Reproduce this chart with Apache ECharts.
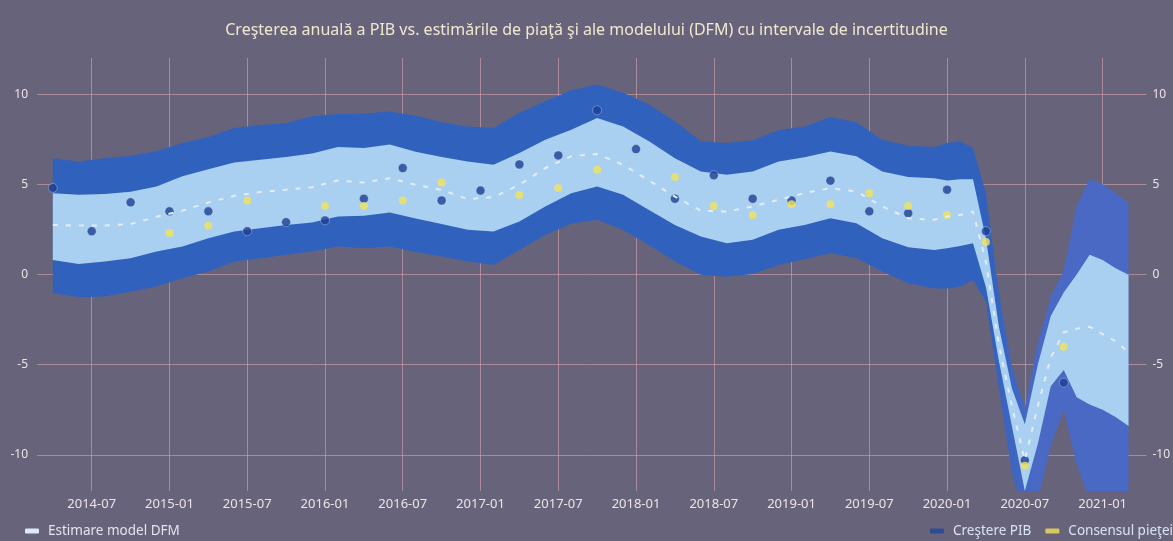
<!DOCTYPE html>
<html>
<head>
<meta charset="utf-8">
<script src="https://cdn.jsdelivr.net/npm/echarts@6/dist/echarts.min.js"></script>
<style>
  html, body { margin: 0; padding: 0; background: #67637a; }
  #chart { width: 1173px; height: 541px; }
</style>
</head>
<body>
<div id="chart"></div>
<script>
// quarterly observations
const quarterDates = ['2014-04','2014-07','2014-10','2015-01','2015-04','2015-07','2015-10','2016-01','2016-04','2016-07',
  '2016-10','2017-01','2017-04','2017-07','2017-10','2018-01','2018-04','2018-07','2018-10','2019-01',
  '2019-04','2019-07','2019-10','2020-01','2020-04','2020-07','2020-10']
const gdpGrowth = [4.8, 2.4, 4.0, 3.5, 3.5, 2.4, 2.9, 3.0, 4.2, 5.9,
  4.1, 4.65, 6.1, 6.6, 9.1, 6.95, 4.2, 5.5, 4.2, 4.1,
  5.2, 3.5, 3.4, 4.7, 2.4, -10.3, -6.0]
const marketConsensus = [null, null, null, 2.3, 2.7, 4.1, null, 3.8, 3.8, 4.1,
  5.1, null, 4.4, 4.8, 5.8, null, 5.4, 3.8, 3.3, 3.9,
  3.9, 4.5, 3.8, 3.3, 1.8, -10.6, -4.0]

// DFM estimate and uncertainty bands
const bandDates = ['2014-04','2014-06','2014-08','2014-10','2014-12','2015-02','2015-04','2015-06','2015-08','2015-10',
  '2015-12','2016-02','2016-04','2016-06','2016-08','2016-10','2016-12','2017-02','2017-04','2017-06',
  '2017-08','2017-10','2017-12','2018-02','2018-04','2018-06','2018-08','2018-10','2018-12','2019-02',
  '2019-04','2019-06','2019-08','2019-10','2019-12',
  '2020-01','2020-02','2020-03','2020-04','2020-05','2020-06','2020-07','2020-08','2020-09','2020-10',
  '2020-11','2020-12','2021-01','2021-02','2021-03']
const dfmEstimate = [2.75, 2.71, 2.71, 2.8, 3.2, 3.54, 3.99, 4.36, 4.57, 4.7,
  4.84, 5.21, 5.1, 5.34, 4.97, 4.69, 4.18, 4.29, 4.97, 5.9,
  6.55, 6.68, 6.08, 5.21, 4.32, 3.54, 3.49, 3.77, 4.14, 4.51,
  4.79, 4.6, 3.77, 3.12, 3.03,
  3.21, 3.3, 3.49, 0.7, -3.9, -7.3, -10.3, -7.3, -4.6, -3.2,
  -3.0, -2.9, -3.3, -3.7, -4.3]
const innerUpper = [4.51, 4.42, 4.46, 4.58, 4.88, 5.44, 5.84, 6.21, 6.36, 6.51,
  6.7, 7.07, 7.01, 7.2, 6.8, 6.51, 6.27, 6.08, 6.73, 7.47,
  8.03, 8.68, 8.2, 7.38, 6.45, 5.71, 5.53, 5.71, 6.27, 6.5,
  6.82, 6.55, 5.71, 5.4, 5.34,
  5.21, 5.28, 5.28, 2.0, -2.9, -6.3, -8.3, -5.0, -2.3, -1.0,
  0.0, 1.1, 0.81, 0.35, -0.02]
const innerLower = [0.81, 0.58, 0.72, 0.9, 1.27, 1.55, 2.01, 2.38, 2.57, 2.75,
  2.88, 3.21, 3.25, 3.44, 3.1, 2.8, 2.48, 2.38, 2.94, 3.77,
  4.51, 4.88, 4.42, 3.58, 2.75, 2.1, 1.73, 1.92, 2.48, 2.75,
  3.12, 2.84, 2.01, 1.51, 1.36,
  1.45, 1.58, 1.73, -0.7, -4.8, -8.4, -12.0, -9.4, -6.2, -5.3,
  -6.8, -7.2, -7.5, -7.9, -8.4]
const outerUpper = [6.45, 6.27, 6.44, 6.58, 6.83, 7.29, 7.62, 8.12, 8.29, 8.4,
  8.77, 8.9, 8.92, 9.03, 8.8, 8.44, 8.2, 8.12, 8.96, 9.6,
  10.21, 10.53, 10.07, 9.42, 8.49, 7.38, 7.29, 7.44, 7.99, 8.2,
  8.73, 8.44, 7.47, 7.14, 7.07,
  7.29, 7.38, 7.01, 4.5, -1.0, -5.1, -7.4, -3.8, -1.2, 0.2,
  3.8, 5.3, 5.0, 4.5, 3.95]
const outerLower = [-1.04, -1.26, -1.22, -0.95, -0.67, -0.21, 0.16, 0.72, 0.9, 1.09,
  1.27, 1.55, 1.46, 1.55, 1.25, 1.0, 0.72, 0.53, 1.36, 2.19,
  2.81, 3.03, 2.47, 1.64, 0.72, -0.02, -0.12, 0.03, 0.53, 0.85,
  1.18, 0.9, 0.16, -0.49, -0.77,
  -0.77, -0.68, -0.31, -1.5, -6.3, -11.0, -13.5, -12.5, -9.5, -7.5,
  -10.5, -12.5, -13, -13, -13]

const xTickLabels = ['2014-07','2015-01','2015-07','2016-01','2016-07','2017-01','2017-07',
  '2018-01','2018-07','2019-01','2019-07','2020-01','2020-07','2021-01']
const yTickValues = [-10, -5, 0, 5, 10]

// months since 2014-01
const toMonth = s => {
  const [y, m] = s.split('-').map(Number)
  return (y - 2014) * 12 + (m - 1)
}
const xTicks = xTickLabels.map(toMonth)

const labelColor = '#eee4e6'
const gridColor = 'rgba(226, 170, 178, 0.55)'

const pairs = (dates, vals) => dates.map((d, i) => [toMonth(d), vals[i]])

// one polygon per band, points placed through the axes (api.coord)
// the outer band fades to a lighter blue after the 2020 drop, as in the original
const band = (lo, hi, color, lateColor) => ({
  type: 'custom',
  silent: true,
  clip: true,
  encode: { x: 0, y: [1, 2] },
  data: bandDates.map((d, i) => [toMonth(d), lo[i], hi[i]]),
  renderItem: (params, api) => {
    if (params.dataIndex !== 0) return null
    const top = bandDates.map((d, i) => api.coord([toMonth(d), hi[i]]))
    const bottom = bandDates.map((d, i) => api.coord([toMonth(d), lo[i]])).reverse()
    let fill = color
    if (lateColor) {
      const xa = api.coord([toMonth('2020-04'), 0])[0]
      const xb = api.coord([toMonth('2020-08'), 0])[0]
      fill = {
        type: 'linear', global: true, x: xa, y: 0, x2: xb, y2: 0,
        colorStops: [{ offset: 0, color: color }, { offset: 1, color: lateColor }]
      }
    }
    return {
      type: 'polygon',
      shape: { points: top.concat(bottom) },
      style: { fill: fill }
    }
  }
})

const chart = echarts.init(document.getElementById('chart'))

chart.setOption({
  animation: false,
  backgroundColor: '#67637a',
  textStyle: { fontFamily: 'Noto Sans' },
  title: {
    text: 'Creşterea anuală a PIB vs. estimările de piaţă şi ale modelului (DFM) cu intervale de incertitudine',
    left: 'center',
    top: 17,
    textStyle: { color: '#f1e8d0', fontSize: 16, fontWeight: 'normal', fontFamily: 'Noto Sans' }
  },
  legend: [
    {
      left: 20, top: 519,
      itemWidth: 14, itemHeight: 5, itemGap: 14,
      textStyle: { color: '#e6e2ee', fontSize: 13.5, padding: [0, 0, 0, 4] },
      data: [{ name: 'Estimare model DFM', icon: 'roundRect', itemStyle: { color: '#dfe8f6', borderWidth: 0 } }]
    },
    {
      left: 925, top: 519, width: 500,
      itemWidth: 14, itemHeight: 5, itemGap: 14,
      textStyle: { color: '#d9e4f6', fontSize: 13.5, padding: [0, 0, 0, 4] },
      data: [
        { name: 'Creştere PIB', icon: 'roundRect', itemStyle: { color: '#22469e', borderWidth: 0 } },
        { name: 'Consensul pieţei', icon: 'roundRect', itemStyle: { color: '#f3e25a', borderWidth: 0 } }
      ]
    }
  ],
  grid: { left: 37, right: 21, top: 58, bottom: 50 },
  xAxis: {
    type: 'value',
    min: 1.78,
    max: 87.38,
    axisLine: { show: false },
    axisTick: { show: false, customValues: xTicks },
    axisLabel: {
      customValues: xTicks,
      color: labelColor,
      fontSize: 13,
      margin: 7,
      formatter: v => xTickLabels[xTicks.indexOf(Math.round(v))] || ''
    },
    splitLine: { show: true, lineStyle: { color: gridColor, width: 1 } }
  },
  yAxis: [
    {
      type: 'value', min: -12, max: 12,
      axisLine: { show: false },
      axisTick: { show: false, customValues: yTickValues },
      axisLabel: { customValues: yTickValues, color: labelColor, fontSize: 12, margin: 9 },
      splitLine: { show: true, lineStyle: { color: gridColor, width: 1 } }
    },
    {
      type: 'value', min: -12, max: 12, position: 'right',
      axisLine: { show: false },
      axisTick: { show: false, customValues: yTickValues },
      axisLabel: { customValues: yTickValues, color: labelColor, fontSize: 12, margin: 6 },
      splitLine: { show: false }
    }
  ],
  series: [
    band(outerLower, outerUpper, '#3061bd', '#4a69c4'),
    band(innerLower, innerUpper, '#a9d0f1'),
    {
      name: 'Estimare model DFM',
      type: 'line',
      symbol: 'none',
      itemStyle: { color: '#dfe8f6' },
      lineStyle: { color: '#e4ecf8', width: 2, type: [5, 8] },
      data: pairs(bandDates, dfmEstimate)
    },
    {
      name: 'Creştere PIB',
      type: 'scatter',
      symbolSize: 9,
      itemStyle: { color: '#1d3f94', borderColor: 'rgba(225, 232, 250, 0.45)', borderWidth: 1 },
      data: pairs(quarterDates, gdpGrowth)
    },
    {
      name: 'Consensul pieţei',
      type: 'scatter',
      symbolSize: 8,
      itemStyle: { color: '#f3e25a' },
      data: pairs(quarterDates, marketConsensus)
    }
  ]
})
</script>
</body>
</html>
